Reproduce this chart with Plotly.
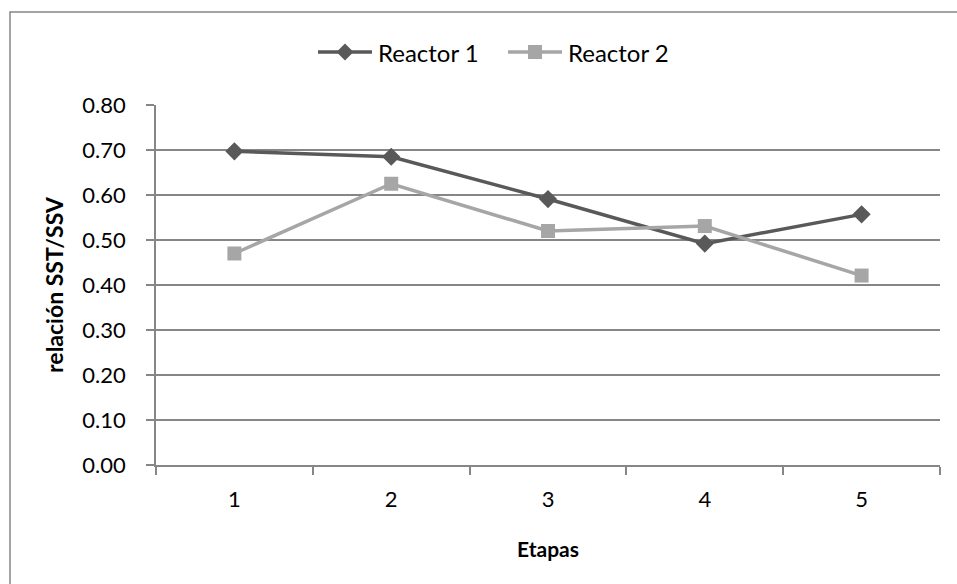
import plotly.graph_objects as go

etapas = ["1", "2", "3", "4", "5"]
reactor1 = [0.697, 0.685, 0.591, 0.492, 0.557]
reactor2 = [0.470, 0.625, 0.520, 0.531, 0.421]
y_ticks = [0.0, 0.1, 0.2, 0.3, 0.4, 0.5, 0.6, 0.7, 0.8]
series_names = ["Reactor 1", "Reactor 2"]
series_colors = ["#595959", "#a6a6a6"]
series_symbols = ["diamond", "square"]

FONT = "Lato"
W, H = 957, 584
L, R, T, B = 156, 17, 105, 119
pw, ph = W - L - R, H - T - B


def px_x(px):
    return (px - L) / pw


def px_y(py):
    return (H - B - py) / ph


fig = go.Figure()
for name, vals, col, sym, msize in zip(series_names, [reactor1, reactor2],
                                       series_colors, series_symbols, [14, 14]):
    fig.add_trace(go.Scatter(
        x=etapas, y=vals, name=name, mode="lines+markers",
        line=dict(color=col, width=3.5),
        marker=dict(symbol=sym, size=msize, color=col),
        showlegend=False,
    ))

# outer chart border (only left/top visible in the frame)
fig.add_shape(type="rect", xref="paper", yref="paper",
              x0=px_x(10), x1=px_x(W + 5), y0=px_y(H + 5), y1=px_y(12),
              line=dict(color="#868686", width=1.5), fillcolor="rgba(0,0,0,0)", layer="below")

# custom legend (Excel-like long legend lines)
legend_x0 = [318, 508]
legend_y = 52
line_len = 54
for name, col, sym, x0 in zip(series_names, series_colors, series_symbols, legend_x0):
    fig.add_shape(type="line", xref="paper", yref="paper",
                  x0=px_x(x0), x1=px_x(x0 + line_len), y0=px_y(legend_y), y1=px_y(legend_y),
                  line=dict(color=col, width=3.5))
    cx = x0 + line_len / 2
    if sym == "diamond":
        d = 8.5
        path = "M {} {} L {} {} L {} {} L {} {} Z".format(
            px_x(cx - d), px_y(legend_y), px_x(cx), px_y(legend_y - d),
            px_x(cx + d), px_y(legend_y), px_x(cx), px_y(legend_y + d))
    else:
        d = 7
        path = "M {} {} L {} {} L {} {} L {} {} Z".format(
            px_x(cx - d), px_y(legend_y - d), px_x(cx + d), px_y(legend_y - d),
            px_x(cx + d), px_y(legend_y + d), px_x(cx - d), px_y(legend_y + d))
    fig.add_shape(type="path", xref="paper", yref="paper", path=path,
                  fillcolor=col, line=dict(color=col, width=0))
    fig.add_annotation(xref="paper", yref="paper", x=px_x(x0 + line_len + 4), y=px_y(legend_y),
                       xanchor="left", yanchor="middle", showarrow=False, text=name,
                       font=dict(family=FONT, size=24, color="#000000"))

fig.update_layout(
    width=W, height=H,
    margin=dict(l=L, r=R, t=T, b=B),
    paper_bgcolor="white", plot_bgcolor="white",
    font=dict(family=FONT, size=22, color="#000000"),
    showlegend=False,
    xaxis=dict(
        type="category", range=[-0.5, 4.5],
        showline=True, linecolor="#868686", linewidth=1.5,
        ticks="outside", tickson="boundaries", ticklen=8, tickcolor="#868686", tickwidth=1.5,
        showgrid=False, zeroline=False,
        tickfont=dict(family=FONT, size=22),
        ticklabelstandoff=14,
        title=dict(text="<b>Etapas</b>", font=dict(family=FONT, size=21), standoff=31),
    ),
    yaxis=dict(
        range=[0, 0.8], tickvals=y_ticks, tickformat=".2f",
        showline=True, linecolor="#868686", linewidth=1.5,
        ticks="outside", ticklen=8, tickcolor="#868686", tickwidth=1.5,
        showgrid=True, gridcolor="#868686", gridwidth=1.5, zeroline=False,
        tickfont=dict(family=FONT, size=22),
        ticklabelstandoff=16,
        title=dict(text="<b>relación SST/SSV</b>", font=dict(family=FONT, size=23), standoff=12),
    ),
)

fig.write_html("out.html")
